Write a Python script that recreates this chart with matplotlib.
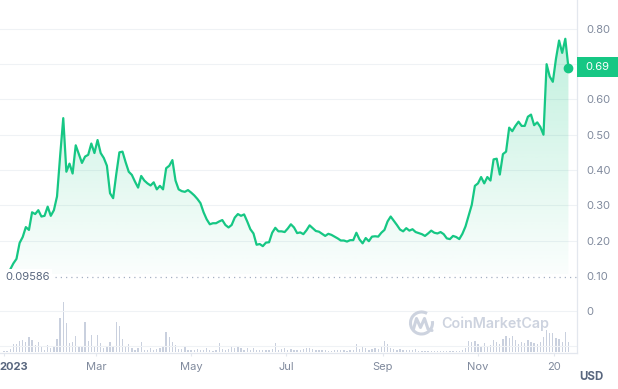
import matplotlib
matplotlib.use('Agg')
import matplotlib.pyplot as plt
import matplotlib.dates as mdates
import numpy as np
import pandas as pd
from matplotlib.patches import Polygon, Rectangle, Arc
from matplotlib.transforms import blended_transform_factory, ScaledTranslation

plt.rcParams['font.family'] = ['Inter', 'DejaVu Sans']

# ---------------- data ----------------
start_date = '2023-01-01'
price = [
    0.096, 0.105, 0.118, 0.135, 0.148, 0.193, 0.21, 0.238, 0.23, 0.28,
    0.275, 0.286, 0.268, 0.27, 0.296, 0.27, 0.286, 0.325, 0.44, 0.547,
    0.395, 0.418, 0.39, 0.47, 0.445, 0.42, 0.438, 0.443, 0.475, 0.448,
    0.485, 0.448, 0.434, 0.412, 0.334, 0.32, 0.388, 0.45, 0.452, 0.422,
    0.395, 0.386, 0.367, 0.35, 0.383, 0.37, 0.362, 0.356, 0.365, 0.345,
    0.355, 0.345, 0.405, 0.412, 0.428, 0.37, 0.345, 0.34, 0.338, 0.343,
    0.336, 0.328, 0.318, 0.306, 0.28, 0.26, 0.246, 0.249, 0.249, 0.254,
    0.258, 0.244, 0.237, 0.244, 0.265, 0.275, 0.27, 0.274, 0.254, 0.232,
    0.22, 0.188, 0.19, 0.184, 0.194, 0.195, 0.222, 0.236, 0.226, 0.226,
    0.224, 0.234, 0.246, 0.237, 0.221, 0.223, 0.218, 0.229, 0.243, 0.235,
    0.227, 0.225, 0.219, 0.213, 0.219, 0.216, 0.211, 0.206, 0.2, 0.2,
    0.197, 0.201, 0.201, 0.222, 0.203, 0.192, 0.207, 0.198, 0.211, 0.212,
    0.211, 0.222, 0.23, 0.254, 0.268, 0.256, 0.244, 0.231, 0.226, 0.235,
    0.228, 0.232, 0.224, 0.221, 0.218, 0.213, 0.22, 0.228, 0.222, 0.22,
    0.224, 0.218, 0.206, 0.204, 0.213, 0.21, 0.204, 0.219, 0.24, 0.27,
    0.301, 0.355, 0.362, 0.38, 0.362, 0.38, 0.37, 0.43, 0.432, 0.387,
    0.445, 0.452, 0.52, 0.51, 0.525, 0.537, 0.525, 0.525, 0.551, 0.557,
    0.527, 0.535, 0.522, 0.5, 0.70, 0.665, 0.65, 0.715, 0.767, 0.732,
    0.772, 0.69,
]
volume = [
    2, 3, 8, 22, 22, 33, 35, 30, 45, 35,
    21, 28, 13, 6, 21, 10, 18, 38, 100, 150,
    85, 26, 28, 48, 18, 14, 90, 33, 50, 18,
    50, 25, 12, 18, 28, 15, 88, 78, 38, 18,
    23, 11, 6, 10, 28, 6, 6, 12, 4, 8,
    11, 16, 60, 45, 30, 20, 7, 8, 16, 6,
    5, 5, 8, 6, 5, 11, 5, 3, 6, 27,
    8, 5, 9, 13, 12, 13, 10, 6, 11, 6,
    11, 6, 5, 6, 5, 6, 8, 25, 6, 8,
    11, 6, 8, 6, 6, 5, 7, 12, 10, 7,
    5, 4, 5, 4, 3, 3, 5, 4, 4, 4,
    3, 4, 5, 22, 8, 14, 12, 6, 8, 12,
    8, 14, 32, 22, 12, 8, 6, 8, 6, 5,
    5, 4, 7, 2, 2, 3, 2, 3, 2, 2,
    3, 2, 2, 3, 3, 2, 3, 6, 12, 33,
    28, 32, 24, 18, 25, 16, 20, 35, 30, 22,
    38, 48, 40, 48, 35, 22, 30, 25, 35, 30,
    25, 22, 30, 45, 65, 55, 55, 42, 38, 28,
    58, 28,
]
low_price = 0.09586
last_label = '0.69'
# the 0.70 label is hidden behind the current-price tag in the reference
ytick_vals = [0, 0.1, 0.2, 0.3, 0.4, 0.5, 0.6, 0.8]
ytick_labels = ['0', '0.10', '0.20', '0.30', '0.40', '0.50', '0.60', '0.80']
grid_vals = [-0.1, 0, 0.2, 0.3, 0.4, 0.5, 0.6, 0.7, 0.8]
xtick_dates = ['2023-01-01', '2023-03-01', '2023-05-01', '2023-07-01',
               '2023-09-01', '2023-11-01', '2023-12-20']
xtick_labels = ['2023', 'Mar', 'May', 'Jul', 'Sep', 'Nov', '20']

# ---------------- styling ----------------
GREEN = '#16c784'
GRID = '#eff2f5'
LABEL = '#808a9d'
DARK = '#58667e'
BAR = '#c9d0de'

W, H = 618, 389
fig = plt.figure(figsize=(W / 100, H / 100), dpi=100)
fig.patch.set_facecolor('white')
ax_bottom_px, ax_right_px = 353, 577
ax = fig.add_axes([0, 1 - ax_bottom_px / H, ax_right_px / W, ax_bottom_px / H])
vax = ax.twinx()
vax.set_zorder(1)
ax.set_zorder(2)
ax.patch.set_visible(False)

dates = pd.date_range(start_date, periods=len(price), freq='2D')
x = mdates.date2num(dates)
p = np.array(price)
t0 = mdates.date2num(pd.Timestamp(start_date))
ax.set_xlim(t0 - 2.57, t0 + 367.5)
ax.set_ylim(-0.119, 0.882)

# volume bars
vax.bar(x, volume, width=0.85, color=BAR, linewidth=0, align='center')
vax.set_ylim(-3.9, 1055)
vax.yaxis.set_visible(False)
for s in vax.spines.values():
    s.set_visible(False)

# grid
for gv in grid_vals:
    ax.axhline(gv, color=GRID, lw=0.8, zorder=0)

# gradient fill under the line
floor = 0.105
verts = [(x[0], floor)] + list(zip(x, p)) + [(x[-1], floor)]
poly = Polygon(verts, closed=True, facecolor='none', edgecolor='none')
ax.add_patch(poly)
rgb = matplotlib.colors.to_rgb(GREEN)
grad = np.zeros((256, 1, 4))
grad[..., 0], grad[..., 1], grad[..., 2] = rgb
grad[:, 0, 3] = np.linspace(0.27, 0.02, 256)
im = ax.imshow(grad, extent=[x[0], x[-1], floor, 0.78], aspect='auto',
               origin='upper', zorder=1, interpolation='bilinear')
im.set_clip_path(poly)
ax.set_xlim(t0 - 2.57, t0 + 367.5)
ax.set_ylim(-0.119, 0.882)

# line + last point
ax.plot(x, p, color=GREEN, lw=1.6, zorder=3, solid_joinstyle='round')
ax.plot(x[-1], p[-1], 'o', color=GREEN, ms=6, zorder=4, clip_on=False)

# low line + label
ax.axhline(low_price, xmin=55 / ax_right_px, color='#a6b0c3', lw=0.9,
           ls=(0, (1, 3.2)), zorder=2)
ax.text(5 / ax_right_px, low_price, f'{low_price:.5f}', transform=blended_transform_factory(ax.transAxes, ax.transData),
        ha='left', va='center', fontsize=8, color=DARK, zorder=5,
        bbox=dict(boxstyle='square,pad=0.25', fc='white', ec='none'))

# axes spines/ticks
for side in ['left', 'top']:
    ax.spines[side].set_visible(False)
for side in ['right', 'bottom']:
    ax.spines[side].set_color('#e3e7ee')
    ax.spines[side].set_linewidth(0.9)
ax.yaxis.tick_right()
ax.set_yticks(ytick_vals)
ax.set_yticklabels(ytick_labels)
ax.tick_params(axis='y', length=0, pad=6.5, labelsize=8, labelcolor=LABEL)
ax.set_xticks(mdates.date2num(pd.to_datetime(xtick_dates)))
ax.set_xticklabels(xtick_labels)
ax.tick_params(axis='x', length=2.5, width=0.8, color='#e3e7ee', pad=4,
               labelsize=8, labelcolor=LABEL)
lbl0 = ax.get_xticklabels()[0]
lbl0.set_fontweight('bold')
lbl0.set_color(DARK)
lbl0.set_transform(lbl0.get_transform() + ScaledTranslation(10 / 100, 0, fig.dpi_scale_trans))

# current price tag
bt = blended_transform_factory(ax.transAxes, ax.transData)
tag_h = 19 / 352.5
ax.add_patch(Rectangle((1.0, p[-1] - tag_h / 2 + 0.002), 41 / ax_right_px, tag_h, transform=bt,
                       facecolor=GREEN, edgecolor='none', clip_on=False, zorder=10))
ax.text(1.0 + 20.5 / ax_right_px, p[-1] + 0.002, last_label, transform=bt, ha='center', va='center',
        fontsize=8, color='white', zorder=11, clip_on=False)

# overlay for watermark and currency
ov = fig.add_axes([0, 0, 1, 1], zorder=5)
ov.set_xlim(0, W)
ov.set_ylim(H, 0)
ov.axis('off')
ov.patch.set_visible(False)
wm = '#cdd3df'
ov.add_patch(Arc((421.5, 323), 22, 22, theta1=-10, theta2=300, color=wm, lw=2.2))
ov.plot([413.5, 416.5, 420.5, 424.5, 428, 432],
        [329, 318.5, 327.5, 318.5, 329, 330.5], color=wm, lw=2.2,
        solid_capstyle='round', solid_joinstyle='round')
ov.text(441, 323.5, 'CoinMarketCap', fontsize=10.3, fontweight='semibold', color=wm,
        ha='left', va='center')
ov.text(591, 377, 'USD', fontsize=8.3, fontweight='bold', color=DARK, ha='center', va='center')

fig.savefig('out.png', dpi=100, facecolor='white')
